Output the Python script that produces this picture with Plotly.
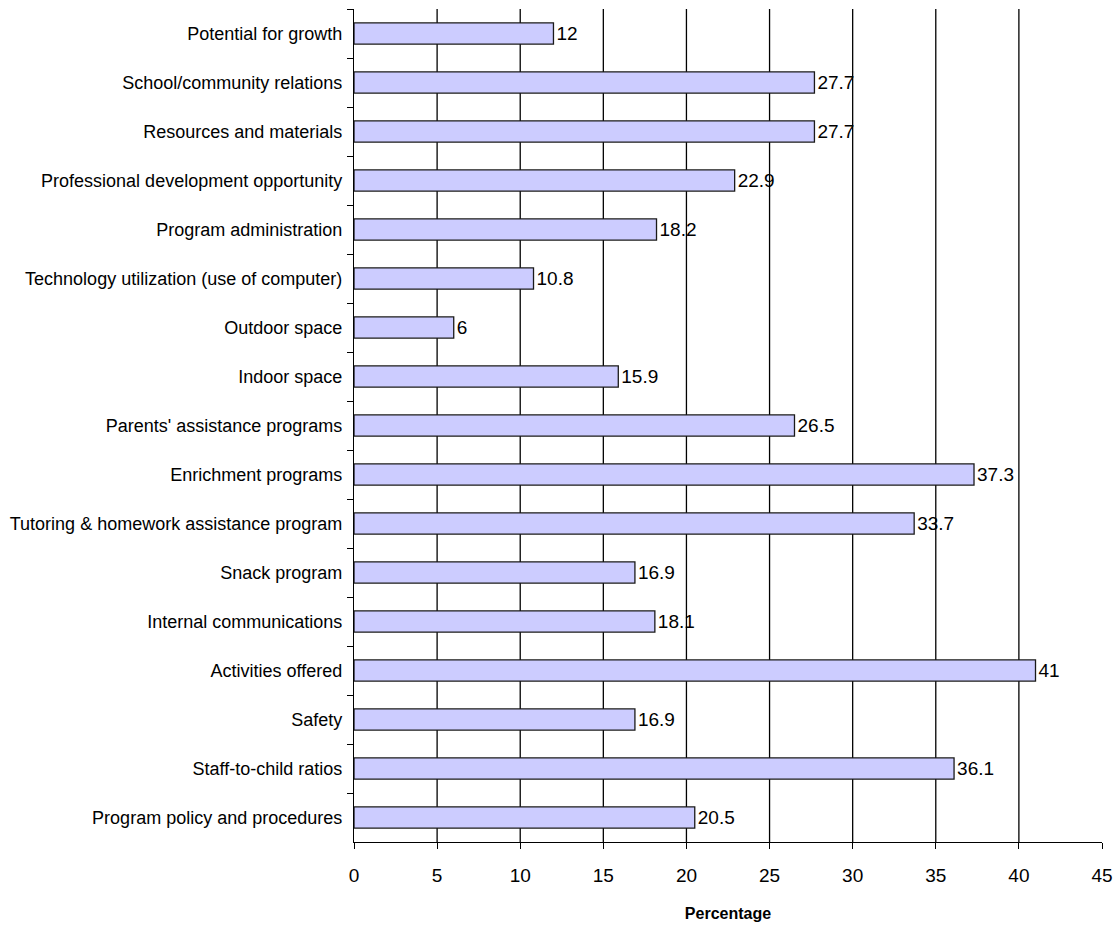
import plotly.graph_objects as go

categories = [
    "Potential for growth",
    "School/community relations",
    "Resources and materials",
    "Professional development opportunity",
    "Program administration",
    "Technology utilization (use of computer)",
    "Outdoor space",
    "Indoor space",
    "Parents' assistance programs",
    "Enrichment programs",
    "Tutoring & homework assistance program",
    "Snack program",
    "Internal communications",
    "Activities offered",
    "Safety",
    "Staff-to-child ratios",
    "Program policy and procedures",
]
values = [12, 27.7, 27.7, 22.9, 18.2, 10.8, 6, 15.9, 26.5, 37.3, 33.7, 16.9, 18.1, 41, 16.9, 36.1, 20.5]
value_labels = ["12", "27.7", "27.7", "22.9", "18.2", "10.8", "6", "15.9", "26.5", "37.3", "33.7", "16.9", "18.1", "41", "16.9", "36.1", "20.5"]
x_ticks = [0, 5, 10, 15, 20, 25, 30, 35, 40, 45]

font_family = "Liberation Sans, Arial, sans-serif"

fig = go.Figure()
fig.add_trace(go.Bar(
    y=categories,
    x=values,
    orientation="h",
    width=0.43,
    marker=dict(color="#CCCCFF", line=dict(color="#1a1a1a", width=1.3)),
    text=value_labels,
    textposition="outside",
    textfont=dict(family=font_family, size=19, color="black"),
    cliponaxis=False,
    hoverinfo="x+y",
))

for g in x_ticks[1:-1]:
    fig.add_shape(type="line", x0=g, x1=g, y0=0, y1=1, xref="x", yref="paper",
                  line=dict(color="black", width=1.3), layer="below")

fig.update_layout(
    width=1117, height=944,
    margin=dict(l=354, r=15, t=9, b=102),
    paper_bgcolor="white",
    plot_bgcolor="white",
    showlegend=False,
    font=dict(family=font_family, color="black"),
)
fig.update_xaxes(
    range=[0, 45],
    automargin=False,
    tickvals=x_ticks,
    ticktext=[str(t) for t in x_ticks],
    showgrid=False,
    zeroline=False,
    showline=True, linecolor="black", linewidth=1.3,
    ticks="outside", ticklen=6, tickcolor="black", tickwidth=1.3,
    tickfont=dict(size=19, family=font_family),
    ticklabelstandoff=10,
    title=dict(text="<b>Percentage</b>", font=dict(size=16, family=font_family), standoff=22),
)
fig.update_yaxes(
    autorange="reversed",
    automargin=False,
    showgrid=False,
    zeroline=False,
    showline=True, linecolor="black", linewidth=1.3,
    ticks="outside", ticklen=6, tickcolor="black", tickwidth=1.3,
    tickson="boundaries",
    tickfont=dict(size=18, family=font_family),
    ticklabelstandoff=7,
)

fig.write_html("out.html", config={"displayModeBar": False},
               post_script="document.body.style.margin='0';document.body.style.overflow='hidden';")
